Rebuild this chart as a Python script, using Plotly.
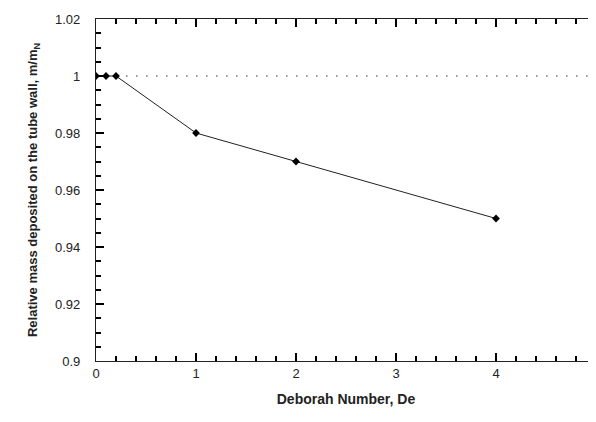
import plotly.graph_objects as go

de = [0, 0.1, 0.2, 1, 2, 4]
rel_mass = [1.0, 1.0, 1.0, 0.98, 0.97, 0.95]
ref_x = [0, 5]
ref_y = [1.0, 1.0]
x_ticks = [0, 1, 2, 3, 4, 5]
y_ticks = [0.9, 0.92, 0.94, 0.96, 0.98, 1.0, 1.02]
y_ticklabels = ["0.9", "0.92", "0.94", "0.96", "0.98", "1", "1.02"]

fig = go.Figure()
fig.add_trace(go.Scatter(x=ref_x, y=ref_y, mode="lines",
                         line=dict(color="#333333", width=1.2, dash="1.5px,8.5px"),
                         showlegend=False, hoverinfo="skip"))
fig.add_trace(go.Scatter(x=de, y=rel_mass, mode="lines+markers",
                         line=dict(color="#222222", width=1),
                         marker=dict(symbol="diamond", size=6, color="black"),
                         showlegend=False))

# page body has an 8px default margin; figure sized so that it ends at the window edge
font = dict(family="Liberation Sans, Arial, sans-serif", size=13, color="#222222")
fig.update_layout(
    width=588, height=414,
    margin=dict(l=88, r=0, t=11, b=61, autoexpand=False),
    paper_bgcolor="white", plot_bgcolor="white",
    font=font,
    xaxis=dict(range=[0, 5], tickvals=x_ticks, ticktext=[str(v) for v in x_ticks],
               ticks="inside", ticklen=8, tickwidth=1.5, tickcolor="black",
               showline=True, linecolor="#222", linewidth=1.3, mirror="allticks",
               showgrid=False, zeroline=False, ticklabeloverflow="allow",
               minor=dict(ticks="inside", dtick=0.2, ticklen=5, tickwidth=1.5, tickcolor="black", showgrid=False),
               title=dict(text="<b>Deborah Number, De</b>", standoff=14, font=dict(size=14))),
    yaxis=dict(range=[0.9, 1.02], tickvals=y_ticks, ticktext=y_ticklabels,
               ticks="inside", ticklen=8, tickwidth=1.5, tickcolor="black",
               showline=True, linecolor="#222", linewidth=1.3, mirror="allticks",
               showgrid=False, zeroline=False, ticklabeloverflow="allow",
               minor=dict(ticks="inside", dtick=0.005, ticklen=5, tickwidth=1.5, tickcolor="black", showgrid=False),
               ticklabelstandoff=12,
               title=dict(text="<b>Relative mass deposited on the tube wall, m/m<sub>N</sub></b>",
                          standoff=14, font=dict(size=13))),
)
fig.write_html("out.html", config={"displayModeBar": False})
